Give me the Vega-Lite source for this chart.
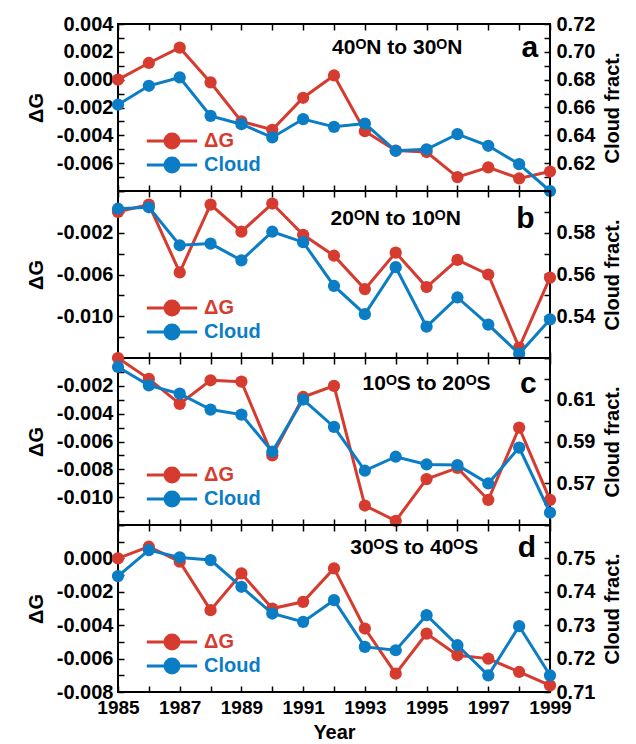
{
  "$schema": "https://vega.github.io/schema/vega-lite/v6.json",
  "background": "white",
  "padding": {"left": 25, "top": 13, "right": 2, "bottom": 0},
  "config": {
    "font": "Liberation Sans",
    "view": {"stroke": "black", "strokeWidth": 2},
    "axis": {
      "labelFont": "Liberation Sans", "labelFontWeight": "bold", "labelFontSize": 20, "labelColor": "black",
      "titleFont": "Liberation Sans", "titleFontWeight": "bold", "titleFontSize": 20, "titleColor": "black",
      "tickColor": "black", "tickWidth": 1.5, "tickSize": -6, "domain": false, "grid": false,
      "labelOverlap": false, "labelFlush": false, "labelBound": false
    },
    "text": {"font": "Liberation Sans", "fontWeight": "bold", "color": "black"}
  },
  "datasets": {
    "main": [
      {"panel": "a", "year": 1985, "dG": 0.0000, "cloud": 0.6620},
      {"panel": "a", "year": 1986, "dG": 0.0012, "cloud": 0.6756},
      {"panel": "a", "year": 1987, "dG": 0.0023, "cloud": 0.6816},
      {"panel": "a", "year": 1988, "dG": -0.0002, "cloud": 0.6540},
      {"panel": "a", "year": 1989, "dG": -0.0030, "cloud": 0.6480},
      {"panel": "a", "year": 1990, "dG": -0.0036, "cloud": 0.6385},
      {"panel": "a", "year": 1991, "dG": -0.0013, "cloud": 0.6517},
      {"panel": "a", "year": 1992, "dG": 0.0003, "cloud": 0.6461},
      {"panel": "a", "year": 1993, "dG": -0.0037, "cloud": 0.6485},
      {"panel": "a", "year": 1994, "dG": -0.0051, "cloud": 0.6289},
      {"panel": "a", "year": 1995, "dG": -0.0052, "cloud": 0.6300},
      {"panel": "a", "year": 1996, "dG": -0.0070, "cloud": 0.6409},
      {"panel": "a", "year": 1997, "dG": -0.0063, "cloud": 0.6325},
      {"panel": "a", "year": 1998, "dG": -0.0071, "cloud": 0.6193},
      {"panel": "a", "year": 1999, "dG": -0.0066, "cloud": 0.6000},
      {"panel": "b", "year": 1985, "dG": 0.0000, "cloud": 0.5915},
      {"panel": "b", "year": 1986, "dG": 0.0007, "cloud": 0.5922},
      {"panel": "b", "year": 1987, "dG": -0.0058, "cloud": 0.5740},
      {"panel": "b", "year": 1988, "dG": 0.0007, "cloud": 0.5748},
      {"panel": "b", "year": 1989, "dG": -0.0019, "cloud": 0.5668},
      {"panel": "b", "year": 1990, "dG": 0.0008, "cloud": 0.5805},
      {"panel": "b", "year": 1991, "dG": -0.0022, "cloud": 0.5755},
      {"panel": "b", "year": 1992, "dG": -0.0042, "cloud": 0.5545},
      {"panel": "b", "year": 1993, "dG": -0.0074, "cloud": 0.5410},
      {"panel": "b", "year": 1994, "dG": -0.0039, "cloud": 0.5635},
      {"panel": "b", "year": 1995, "dG": -0.0072, "cloud": 0.5350},
      {"panel": "b", "year": 1996, "dG": -0.0046, "cloud": 0.5490},
      {"panel": "b", "year": 1997, "dG": -0.0060, "cloud": 0.5360},
      {"panel": "b", "year": 1998, "dG": -0.0130, "cloud": 0.5220},
      {"panel": "b", "year": 1999, "dG": -0.0063, "cloud": 0.5385},
      {"panel": "c", "year": 1985, "dG": 0.0000, "cloud": 0.6257},
      {"panel": "c", "year": 1986, "dG": -0.0015, "cloud": 0.6169},
      {"panel": "c", "year": 1987, "dG": -0.0033, "cloud": 0.6129},
      {"panel": "c", "year": 1988, "dG": -0.0016, "cloud": 0.6053},
      {"panel": "c", "year": 1989, "dG": -0.0017, "cloud": 0.6029},
      {"panel": "c", "year": 1990, "dG": -0.0070, "cloud": 0.5851},
      {"panel": "c", "year": 1991, "dG": -0.0028, "cloud": 0.6101},
      {"panel": "c", "year": 1992, "dG": -0.0020, "cloud": 0.5970},
      {"panel": "c", "year": 1993, "dG": -0.0106, "cloud": 0.5760},
      {"panel": "c", "year": 1994, "dG": -0.0117, "cloud": 0.5827},
      {"panel": "c", "year": 1995, "dG": -0.0087, "cloud": 0.5790},
      {"panel": "c", "year": 1996, "dG": -0.0079, "cloud": 0.5787},
      {"panel": "c", "year": 1997, "dG": -0.0102, "cloud": 0.5699},
      {"panel": "c", "year": 1998, "dG": -0.0050, "cloud": 0.5871},
      {"panel": "c", "year": 1999, "dG": -0.0102, "cloud": 0.5559},
      {"panel": "d", "year": 1985, "dG": 0.0000, "cloud": 0.7447},
      {"panel": "d", "year": 1986, "dG": 0.0007, "cloud": 0.7525},
      {"panel": "d", "year": 1987, "dG": -0.0002, "cloud": 0.7503},
      {"panel": "d", "year": 1988, "dG": -0.0031, "cloud": 0.7495},
      {"panel": "d", "year": 1989, "dG": -0.0009, "cloud": 0.7415},
      {"panel": "d", "year": 1990, "dG": -0.0030, "cloud": 0.7335},
      {"panel": "d", "year": 1991, "dG": -0.0026, "cloud": 0.7310},
      {"panel": "d", "year": 1992, "dG": -0.0006, "cloud": 0.7375},
      {"panel": "d", "year": 1993, "dG": -0.0042, "cloud": 0.7235},
      {"panel": "d", "year": 1994, "dG": -0.0069, "cloud": 0.7225},
      {"panel": "d", "year": 1995, "dG": -0.0045, "cloud": 0.7330},
      {"panel": "d", "year": 1996, "dG": -0.0058, "cloud": 0.7240},
      {"panel": "d", "year": 1997, "dG": -0.0060, "cloud": 0.7150},
      {"panel": "d", "year": 1998, "dG": -0.0068, "cloud": 0.7297},
      {"panel": "d", "year": 1999, "dG": -0.0076, "cloud": 0.7150}
    ]
  },
  "spacing": 0,
  "bounds": "flush",
  "resolve": {"scale": {"color": "independent"}, "legend": {"color": "independent"}},
  "vconcat": [
    {
      "width": 432, "height": 167,
      "data": {"name": "main"},
      "transform": [{"filter": "datum.panel === 'a'"}],
      "resolve": {"scale": {"y": "independent"}, "axis": {"x": "independent", "y": "independent"}},
      "layer": [
        {
          "layer": [
            {"mark": {"type": "line", "strokeWidth": 3}},
            {"mark": {"type": "point", "filled": true, "size": 150, "opacity": 1}}
          ],
          "encoding": {
            "x": {"field": "year", "type": "quantitative", "scale": {"domain": [1985, 1999], "nice": false, "zero": false},
                  "axis": {"orient": "bottom", "values": [1985,1986,1987,1988,1989,1990,1991,1992,1993,1994,1995,1996,1997,1998,1999], "labels": false, "title": null}},
            "y": {"field": "dG", "type": "quantitative", "scale": {"domain": [-0.008, 0.004], "nice": false, "zero": false},
                  "axis": {"orient": "left", "title": "ΔG", "titlePadding": 10, "labelPadding": 11,
                           "values": [-0.008,-0.007,-0.006,-0.005,-0.004,-0.003,-0.002,-0.001,0,0.001,0.002,0.003,0.004],
                           "labelExpr": "(abs(round(datum.value*1000)) % 2 == 0 && datum.value > -0.0075) ? ((datum.value < -0.0000001 ? '-' : '') + format(abs(datum.value), '.3f')) : ''"}},
            "color": {"datum": "ΔG", "scale": {"domain": ["ΔG", "Cloud"], "range": ["#d63b2f", "#0b7dc4"]},
                      "legend": {"orient": "none", "legendX": 44, "legendY": 107, "title": null,
                                 "symbolType": "M-3.6,0H3.6M1,0A1,1,0,1,1,-1,0A1,1,0,1,1,1,0", "symbolSize": 196, "symbolStrokeWidth": 3,
                                 "labelFont": "Liberation Sans", "labelFontWeight": "bold", "labelFontSize": 20, "labelOffset": 22, "rowPadding": -2, "padding": 0,
                                 "encode": {"symbols": {"update": {"fill": {"signal": "datum.value === 'ΔG' ? '#d63b2f' : '#0b7dc4'"}, "stroke": {"signal": "datum.value === 'ΔG' ? '#d63b2f' : '#0b7dc4'"}, "opacity": {"value": 1}}},
                                            "labels": {"update": {"fill": {"signal": "datum.value === 'ΔG' ? '#d63b2f' : '#0b7dc4'"}}}}}}
          }
        },
        {
          "layer": [
            {"mark": {"type": "line", "strokeWidth": 3}},
            {"mark": {"type": "point", "filled": true, "size": 150, "opacity": 1}}
          ],
          "encoding": {
            "x": {"field": "year", "type": "quantitative", "scale": {"domain": [1985, 1999], "nice": false, "zero": false},
                  "axis": {"orient": "top", "values": [1985,1986,1987,1988,1989,1990,1991,1992,1993,1994,1995,1996,1997,1998,1999], "labels": false, "title": null}},
            "y": {"field": "cloud", "type": "quantitative", "scale": {"domain": [0.60, 0.72], "nice": false, "zero": false},
                  "axis": {"orient": "right", "title": "Cloud fract.", "titleAngle": 270, "titleBaseline": "top", "titlePadding": 8, "labelPadding": 12,
                           "values": [0.60,0.61,0.62,0.63,0.64,0.65,0.66,0.67,0.68,0.69,0.70,0.71,0.72],
                           "labelExpr": "(round(datum.value*100) % 2 == 0 && datum.value > 0.605) ? format(datum.value, '.2f') : ''"}},
            "color": {"datum": "Cloud", "scale": {"domain": ["ΔG", "Cloud"], "range": ["#d63b2f", "#0b7dc4"]}}
          }
        },
        {
          "data": {"values": [{"label": "40ᴼN to 30ᴼN"}]},
          "mark": {"type": "text", "fontSize": 21, "align": "center", "baseline": "middle"},
          "encoding": {
            "x": {"datum": 1994.05, "type": "quantitative", "scale": {"domain": [1985, 1999], "nice": false, "zero": false}, "axis": null},
            "y": {"datum": 0.0023, "type": "quantitative", "scale": {"domain": [-0.008, 0.004], "nice": false, "zero": false}, "axis": null},
            "text": {"field": "label"}
          }
        },
        {
          "data": {"values": [{"label": "a"}]},
          "mark": {"type": "text", "fontSize": 30, "align": "center", "baseline": "middle"},
          "encoding": {
            "x": {"datum": 1998.35, "type": "quantitative", "scale": {"domain": [1985, 1999], "nice": false, "zero": false}, "axis": null},
            "y": {"datum": 0.0023, "type": "quantitative", "scale": {"domain": [-0.008, 0.004], "nice": false, "zero": false}, "axis": null},
            "text": {"field": "label"}
          }
        }
      ]
    },
    {
      "width": 432, "height": 167,
      "data": {"name": "main"},
      "transform": [{"filter": "datum.panel === 'b'"}],
      "resolve": {"scale": {"y": "independent"}, "axis": {"x": "independent", "y": "independent"}},
      "layer": [
        {
          "layer": [
            {"mark": {"type": "line", "strokeWidth": 3}},
            {"mark": {"type": "point", "filled": true, "size": 150, "opacity": 1}}
          ],
          "encoding": {
            "x": {"field": "year", "type": "quantitative", "scale": {"domain": [1985, 1999], "nice": false, "zero": false},
                  "axis": {"orient": "bottom", "values": [1985,1986,1987,1988,1989,1990,1991,1992,1993,1994,1995,1996,1997,1998,1999], "labels": false, "title": null}},
            "y": {"field": "dG", "type": "quantitative", "scale": {"domain": [-0.014, 0.002], "nice": false, "zero": false},
                  "axis": {"orient": "left", "title": "ΔG", "titlePadding": 10, "labelPadding": 11,
                           "values": [-0.014,-0.012,-0.010,-0.008,-0.006,-0.004,-0.002,0,0.002],
                           "labelExpr": "(abs(round(datum.value*1000) + 2) % 4 == 0 && datum.value < -0.001 && datum.value > -0.013) ? ((datum.value < -0.0000001 ? '-' : '') + format(abs(datum.value), '.3f')) : ''"}},
            "color": {"datum": "ΔG", "scale": {"domain": ["ΔG", "Cloud"], "range": ["#d63b2f", "#0b7dc4"]},
                      "legend": {"orient": "none", "legendX": 44, "legendY": 107, "title": null,
                                 "symbolType": "M-3.6,0H3.6M1,0A1,1,0,1,1,-1,0A1,1,0,1,1,1,0", "symbolSize": 196, "symbolStrokeWidth": 3,
                                 "labelFont": "Liberation Sans", "labelFontWeight": "bold", "labelFontSize": 20, "labelOffset": 22, "rowPadding": -2, "padding": 0,
                                 "encode": {"symbols": {"update": {"fill": {"signal": "datum.value === 'ΔG' ? '#d63b2f' : '#0b7dc4'"}, "stroke": {"signal": "datum.value === 'ΔG' ? '#d63b2f' : '#0b7dc4'"}, "opacity": {"value": 1}}},
                                            "labels": {"update": {"fill": {"signal": "datum.value === 'ΔG' ? '#d63b2f' : '#0b7dc4'"}}}}}}
          }
        },
        {
          "layer": [
            {"mark": {"type": "line", "strokeWidth": 3}},
            {"mark": {"type": "point", "filled": true, "size": 150, "opacity": 1}}
          ],
          "encoding": {
            "x": {"field": "year", "type": "quantitative", "scale": {"domain": [1985, 1999], "nice": false, "zero": false},
                  "axis": {"orient": "top", "values": [1985,1986,1987,1988,1989,1990,1991,1992,1993,1994,1995,1996,1997,1998,1999], "labels": false, "title": null}},
            "y": {"field": "cloud", "type": "quantitative", "scale": {"domain": [0.52, 0.60], "nice": false, "zero": false},
                  "axis": {"orient": "right", "title": "Cloud fract.", "titleAngle": 270, "titleBaseline": "top", "titlePadding": 8, "labelPadding": 12,
                           "values": [0.52,0.53,0.54,0.55,0.56,0.57,0.58,0.59,0.60],
                           "labelExpr": "(round(datum.value*100) % 2 == 0 && datum.value > 0.535 && datum.value < 0.585) ? format(datum.value, '.2f') : ''"}},
            "color": {"datum": "Cloud", "scale": {"domain": ["ΔG", "Cloud"], "range": ["#d63b2f", "#0b7dc4"]}}
          }
        },
        {
          "data": {"values": [{"label": "20ᴼN to 10ᴼN"}]},
          "mark": {"type": "text", "fontSize": 21, "align": "center", "baseline": "middle"},
          "encoding": {
            "x": {"datum": 1994.0, "type": "quantitative", "scale": {"domain": [1985, 1999], "nice": false, "zero": false}, "axis": null},
            "y": {"datum": -0.0007, "type": "quantitative", "scale": {"domain": [-0.014, 0.002], "nice": false, "zero": false}, "axis": null},
            "text": {"field": "label"}
          }
        },
        {
          "data": {"values": [{"label": "b"}]},
          "mark": {"type": "text", "fontSize": 30, "align": "center", "baseline": "middle"},
          "encoding": {
            "x": {"datum": 1998.2, "type": "quantitative", "scale": {"domain": [1985, 1999], "nice": false, "zero": false}, "axis": null},
            "y": {"datum": -0.0007, "type": "quantitative", "scale": {"domain": [-0.014, 0.002], "nice": false, "zero": false}, "axis": null},
            "text": {"field": "label"}
          }
        }
      ]
    },
    {
      "width": 432, "height": 167,
      "data": {"name": "main"},
      "transform": [{"filter": "datum.panel === 'c'"}],
      "resolve": {"scale": {"y": "independent"}, "axis": {"x": "independent", "y": "independent"}},
      "layer": [
        {
          "layer": [
            {"mark": {"type": "line", "strokeWidth": 3}},
            {"mark": {"type": "point", "filled": true, "size": 150, "opacity": 1}}
          ],
          "encoding": {
            "x": {"field": "year", "type": "quantitative", "scale": {"domain": [1985, 1999], "nice": false, "zero": false},
                  "axis": {"orient": "bottom", "values": [1985,1986,1987,1988,1989,1990,1991,1992,1993,1994,1995,1996,1997,1998,1999], "labels": false, "title": null}},
            "y": {"field": "dG", "type": "quantitative", "scale": {"domain": [-0.012, 0.0], "nice": false, "zero": false},
                  "axis": {"orient": "left", "title": "ΔG", "titlePadding": 10, "labelPadding": 11,
                           "values": [-0.012,-0.011,-0.010,-0.009,-0.008,-0.007,-0.006,-0.005,-0.004,-0.003,-0.002,-0.001,0],
                           "labelExpr": "(abs(round(datum.value*1000)) % 2 == 0 && datum.value < -0.001 && datum.value > -0.011) ? ((datum.value < -0.0000001 ? '-' : '') + format(abs(datum.value), '.3f')) : ''"}},
            "color": {"datum": "ΔG", "scale": {"domain": ["ΔG", "Cloud"], "range": ["#d63b2f", "#0b7dc4"]},
                      "legend": {"orient": "none", "legendX": 44, "legendY": 107, "title": null,
                                 "symbolType": "M-3.6,0H3.6M1,0A1,1,0,1,1,-1,0A1,1,0,1,1,1,0", "symbolSize": 196, "symbolStrokeWidth": 3,
                                 "labelFont": "Liberation Sans", "labelFontWeight": "bold", "labelFontSize": 20, "labelOffset": 22, "rowPadding": -2, "padding": 0,
                                 "encode": {"symbols": {"update": {"fill": {"signal": "datum.value === 'ΔG' ? '#d63b2f' : '#0b7dc4'"}, "stroke": {"signal": "datum.value === 'ΔG' ? '#d63b2f' : '#0b7dc4'"}, "opacity": {"value": 1}}},
                                            "labels": {"update": {"fill": {"signal": "datum.value === 'ΔG' ? '#d63b2f' : '#0b7dc4'"}}}}}}
          }
        },
        {
          "layer": [
            {"mark": {"type": "line", "strokeWidth": 3}},
            {"mark": {"type": "point", "filled": true, "size": 150, "opacity": 1}}
          ],
          "encoding": {
            "x": {"field": "year", "type": "quantitative", "scale": {"domain": [1985, 1999], "nice": false, "zero": false},
                  "axis": {"orient": "top", "values": [1985,1986,1987,1988,1989,1990,1991,1992,1993,1994,1995,1996,1997,1998,1999], "labels": false, "title": null}},
            "y": {"field": "cloud", "type": "quantitative", "scale": {"domain": [0.55, 0.63], "nice": false, "zero": false},
                  "axis": {"orient": "right", "title": "Cloud fract.", "titleAngle": 270, "titleBaseline": "top", "titlePadding": 8, "labelPadding": 12,
                           "values": [0.55,0.56,0.57,0.58,0.59,0.60,0.61,0.62,0.63],
                           "labelExpr": "(abs(round(datum.value*100)) % 2 == 1 && datum.value > 0.565 && datum.value < 0.615) ? format(datum.value, '.2f') : ''"}},
            "color": {"datum": "Cloud", "scale": {"domain": ["ΔG", "Cloud"], "range": ["#d63b2f", "#0b7dc4"]}}
          }
        },
        {
          "data": {"values": [{"label": "10ᴼS to 20ᴼS"}]},
          "mark": {"type": "text", "fontSize": 21, "align": "center", "baseline": "middle"},
          "encoding": {
            "x": {"datum": 1995.0, "type": "quantitative", "scale": {"domain": [1985, 1999], "nice": false, "zero": false}, "axis": null},
            "y": {"datum": -0.0019, "type": "quantitative", "scale": {"domain": [-0.012, 0.0], "nice": false, "zero": false}, "axis": null},
            "text": {"field": "label"}
          }
        },
        {
          "data": {"values": [{"label": "c"}]},
          "mark": {"type": "text", "fontSize": 30, "align": "center", "baseline": "middle"},
          "encoding": {
            "x": {"datum": 1998.3, "type": "quantitative", "scale": {"domain": [1985, 1999], "nice": false, "zero": false}, "axis": null},
            "y": {"datum": -0.0019, "type": "quantitative", "scale": {"domain": [-0.012, 0.0], "nice": false, "zero": false}, "axis": null},
            "text": {"field": "label"}
          }
        }
      ]
    },
    {
      "width": 432, "height": 167,
      "data": {"name": "main"},
      "transform": [{"filter": "datum.panel === 'd'"}],
      "resolve": {"scale": {"y": "independent"}, "axis": {"x": "independent", "y": "independent"}},
      "layer": [
        {
          "layer": [
            {"mark": {"type": "line", "strokeWidth": 3}},
            {"mark": {"type": "point", "filled": true, "size": 150, "opacity": 1}}
          ],
          "encoding": {
            "x": {"field": "year", "type": "quantitative", "scale": {"domain": [1985, 1999], "nice": false, "zero": false},
                  "axis": {"orient": "bottom", "values": [1985,1986,1987,1988,1989,1990,1991,1992,1993,1994,1995,1996,1997,1998,1999],
                           "labelExpr": "datum.value % 2 == 1 ? format(datum.value, 'd') : ''", "labelPadding": 12, "labelFontSize": 19,
                           "title": "Year", "titlePadding": 5}},
            "y": {"field": "dG", "type": "quantitative", "scale": {"domain": [-0.008, 0.002], "nice": false, "zero": false},
                  "axis": {"orient": "left", "title": "ΔG", "titlePadding": 10, "labelPadding": 11,
                           "values": [-0.008,-0.007,-0.006,-0.005,-0.004,-0.003,-0.002,-0.001,0,0.001,0.002],
                           "labelExpr": "(abs(round(datum.value*1000)) % 2 == 0 && datum.value < 0.001) ? ((datum.value < -0.0000001 ? '-' : '') + format(abs(datum.value), '.3f')) : ''"}},
            "color": {"datum": "ΔG", "scale": {"domain": ["ΔG", "Cloud"], "range": ["#d63b2f", "#0b7dc4"]},
                      "legend": {"orient": "none", "legendX": 44, "legendY": 107, "title": null,
                                 "symbolType": "M-3.6,0H3.6M1,0A1,1,0,1,1,-1,0A1,1,0,1,1,1,0", "symbolSize": 196, "symbolStrokeWidth": 3,
                                 "labelFont": "Liberation Sans", "labelFontWeight": "bold", "labelFontSize": 20, "labelOffset": 22, "rowPadding": -2, "padding": 0,
                                 "encode": {"symbols": {"update": {"fill": {"signal": "datum.value === 'ΔG' ? '#d63b2f' : '#0b7dc4'"}, "stroke": {"signal": "datum.value === 'ΔG' ? '#d63b2f' : '#0b7dc4'"}, "opacity": {"value": 1}}},
                                            "labels": {"update": {"fill": {"signal": "datum.value === 'ΔG' ? '#d63b2f' : '#0b7dc4'"}}}}}}
          }
        },
        {
          "layer": [
            {"mark": {"type": "line", "strokeWidth": 3}},
            {"mark": {"type": "point", "filled": true, "size": 150, "opacity": 1}}
          ],
          "encoding": {
            "x": {"field": "year", "type": "quantitative", "scale": {"domain": [1985, 1999], "nice": false, "zero": false},
                  "axis": {"orient": "top", "values": [1985,1986,1987,1988,1989,1990,1991,1992,1993,1994,1995,1996,1997,1998,1999], "labels": false, "title": null}},
            "y": {"field": "cloud", "type": "quantitative", "scale": {"domain": [0.71, 0.76], "nice": false, "zero": false},
                  "axis": {"orient": "right", "title": "Cloud fract.", "titleAngle": 270, "titleBaseline": "top", "titlePadding": 8, "labelPadding": 12,
                           "values": [0.71,0.715,0.72,0.725,0.73,0.735,0.74,0.745,0.75,0.755,0.76],
                           "labelExpr": "(round(datum.value*1000) % 10 == 0 && datum.value < 0.755) ? format(datum.value, '.2f') : ''"}},
            "color": {"datum": "Cloud", "scale": {"domain": ["ΔG", "Cloud"], "range": ["#d63b2f", "#0b7dc4"]}}
          }
        },
        {
          "data": {"values": [{"label": "30ᴼS to 40ᴼS"}]},
          "mark": {"type": "text", "fontSize": 21, "align": "center", "baseline": "middle"},
          "encoding": {
            "x": {"datum": 1994.6, "type": "quantitative", "scale": {"domain": [1985, 1999], "nice": false, "zero": false}, "axis": null},
            "y": {"datum": 0.0006, "type": "quantitative", "scale": {"domain": [-0.008, 0.002], "nice": false, "zero": false}, "axis": null},
            "text": {"field": "label"}
          }
        },
        {
          "data": {"values": [{"label": "d"}]},
          "mark": {"type": "text", "fontSize": 30, "align": "center", "baseline": "middle"},
          "encoding": {
            "x": {"datum": 1998.25, "type": "quantitative", "scale": {"domain": [1985, 1999], "nice": false, "zero": false}, "axis": null},
            "y": {"datum": 0.0006, "type": "quantitative", "scale": {"domain": [-0.008, 0.002], "nice": false, "zero": false}, "axis": null},
            "text": {"field": "label"}
          }
        }
      ]
    }
  ]
}
